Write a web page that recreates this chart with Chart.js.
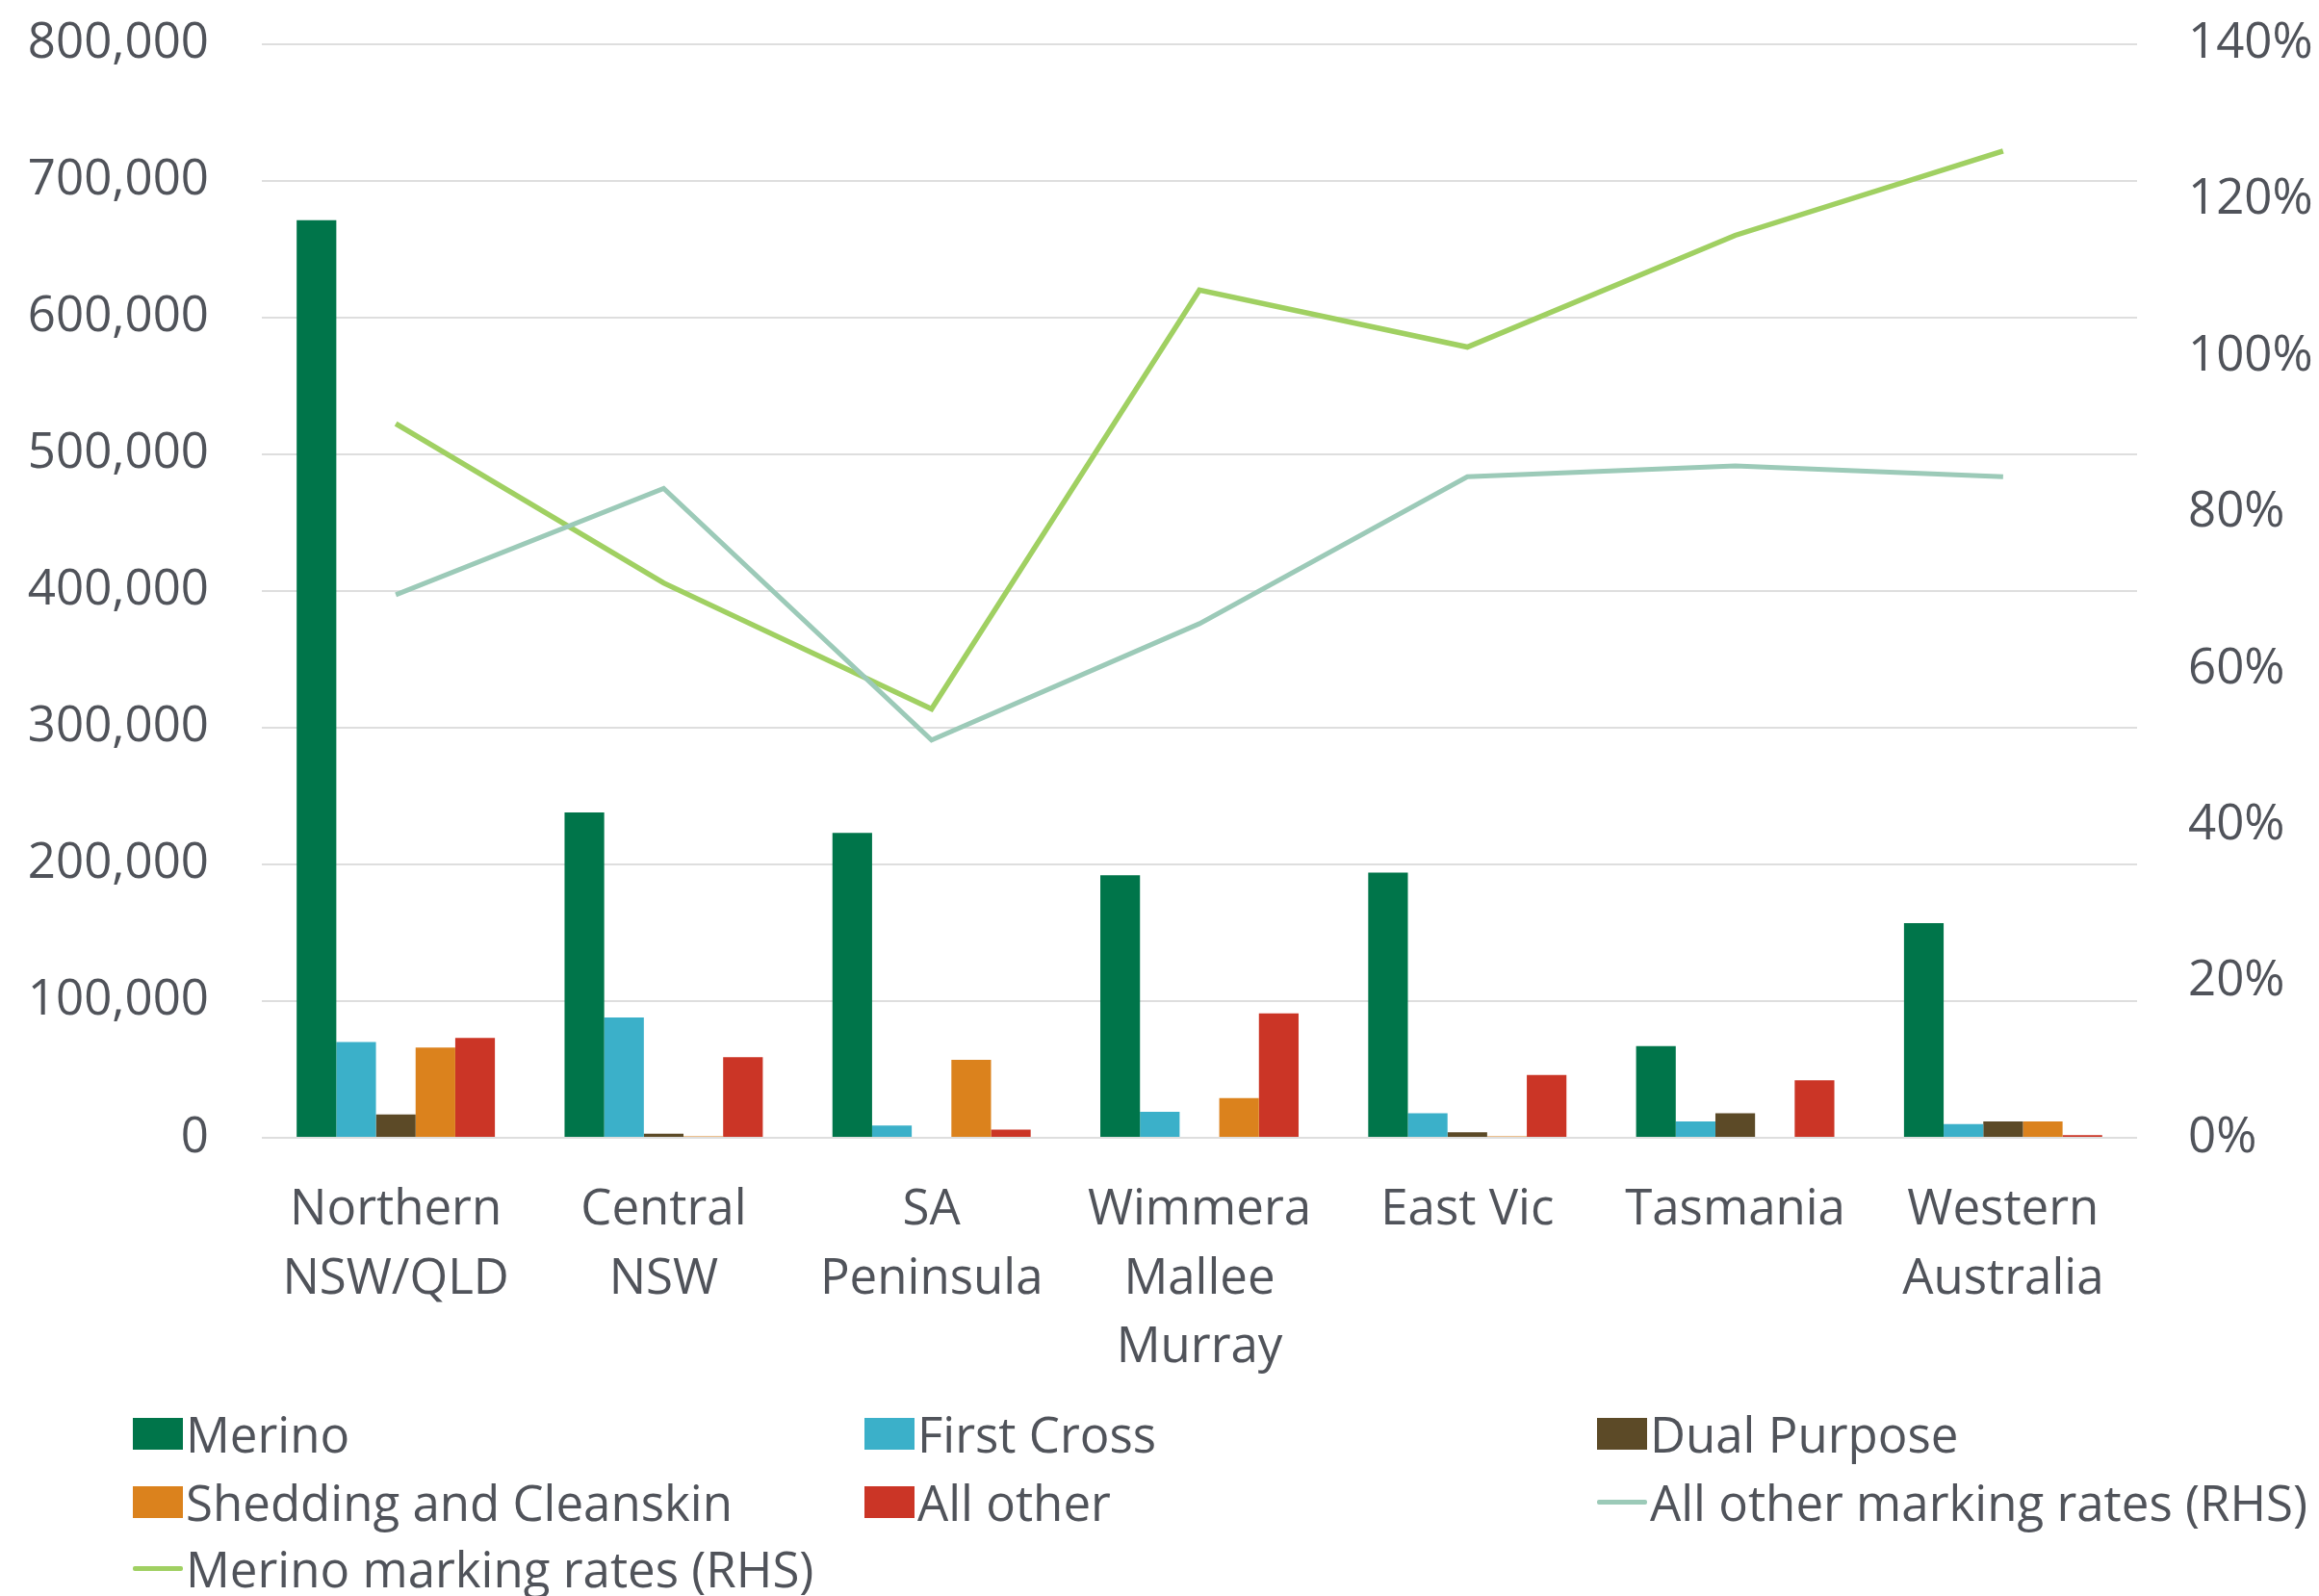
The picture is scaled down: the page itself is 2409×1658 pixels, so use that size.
<!DOCTYPE html>
<html>
<head>
<meta charset="utf-8">
<script src="https://cdn.jsdelivr.net/npm/chart.js@4.4.1/dist/chart.umd.min.js"></script>
<style>
  html, body { margin:0; padding:0; background:#fff; overflow:hidden; }
  #wrap { position:relative; width:2409px; height:1658px; overflow:hidden; }
  #box { position:absolute; left:0; top:-40px; width:2409px; height:1490px; }
  #legend { position:absolute; left:0; top:0; width:2409px; height:1658px; pointer-events:none;
    font-family:"Open Sans", sans-serif; font-size:51px; color:#50535a; }
  .item { position:absolute; display:flex; align-items:center; white-space:nowrap; line-height:1; }
  .sw { width:52px; height:33px; margin-right:3px; }
  .ln { width:52px; height:5px; margin-right:3px; border-radius:2px; }
</style>
</head>
<body>
<div id="wrap">
  <div id="box"><canvas id="chart"></canvas></div>
  <div id="legend"></div>
</div>
<script>
const regions = [['Northern','NSW/QLD'], ['Central','NSW'], ['SA','Peninsula'], ['Wimmera','Mallee','Murray'], 'East Vic', 'Tasmania', ['Western','Australia']];

const merino      = [671000, 238000, 223000, 192000, 194000, 67000, 157000];
const firstCross  = [70000, 88000, 9000, 19000, 18000, 12000, 10000];
const dualPurpose = [17000, 3000, 0, 0, 4000, 18000, 12000];
const shedding    = [66000, 1000, 57000, 29000, 1000, 0, 12000];
const allOther    = [73000, 59000, 6000, 91000, 46000, 42000, 2000];

const allOtherRates = [69.5, 83.1, 50.9, 65.8, 84.6, 86.0, 84.6];
const merinoRates   = [91.4, 71.0, 54.9, 108.5, 101.2, 115.5, 126.3];

const leftTicks = [0, 800000, 100000];
const rightTicks = [0, 140, 20];

const textCol = '#50535a';
const fnt = { family:'"Open Sans", sans-serif', size:51 };

const datasets = [
  { type:'bar', label:'Merino', data:merino, backgroundColor:'#00754a', yAxisID:'y', order:2 },
  { type:'bar', label:'First Cross', data:firstCross, backgroundColor:'#3bb0c9', yAxisID:'y', order:2 },
  { type:'bar', label:'Dual Purpose', data:dualPurpose, backgroundColor:'#5c4a27', yAxisID:'y', order:2 },
  { type:'bar', label:'Shedding and Cleanskin', data:shedding, backgroundColor:'#db821d', yAxisID:'y', order:2 },
  { type:'bar', label:'All other', data:allOther, backgroundColor:'#cb3526', yAxisID:'y', order:2 },
  { type:'line', label:'All other marking rates (RHS)', data:allOtherRates, borderColor:'#9ccab8', borderWidth:5, pointRadius:0, yAxisID:'y2', order:1 },
  { type:'line', label:'Merino marking rates (RHS)', data:merinoRates, borderColor:'#a0d062', borderWidth:5.5, pointRadius:0, yAxisID:'y2', order:1 }
];

new Chart(document.getElementById('chart'), {
  data:{ labels:regions, datasets },
  options:{
    responsive:true, maintainAspectRatio:false, animation:false,
    layout:{ padding:{ top:2, right:0, left:0, bottom:0 } },
    plugins:{ legend:{ display:false }, tooltip:{ enabled:false } },
    datasets:{ bar:{ barPercentage:1, categoryPercentage:0.74 } },
    scales:{
      x:{
        grid:{ display:false, drawTicks:false },
        border:{ display:false },
        ticks:{ color:textCol, font:{ ...fnt, lineHeight:1.4 }, padding:40, maxRotation:0, autoSkip:false },
        afterFit(s){ s.height = 268; }
      },
      y:{
        position:'left', min:leftTicks[0], max:leftTicks[1],
        grid:{ color:'#dedede', lineWidth:2, drawTicks:false },
        border:{ display:false },
        ticks:{ stepSize:leftTicks[2], color:textCol, font:fnt, padding:55,
          callback:v => v.toLocaleString('en-US') },
        afterFit(s){ s.width = 272; }
      },
      y2:{
        position:'right', min:rightTicks[0], max:rightTicks[1],
        grid:{ display:false, drawTicks:false },
        border:{ display:false },
        ticks:{ stepSize:rightTicks[2], color:textCol, font:fnt, padding:53,
          callback:v => v + '%' },
        afterFit(s){ s.width = 2409 - 2220; }
      }
    }
  }
});

// legend in three columns, like the original
const cols = [138, 898, 1659];
const rows = [1489, 1560, 1629];
const leg = document.getElementById('legend');
datasets.forEach((ds, i) => {
  const el = document.createElement('div');
  el.className = 'item';
  el.style.left = cols[i % 3] + 'px';
  el.style.top = (rows[Math.floor(i / 3)] - 30) + 'px';
  el.style.height = '60px';
  const mk = document.createElement('span');
  if(ds.type === 'bar'){ mk.className = 'sw'; mk.style.background = ds.backgroundColor; }
  else { mk.className = 'ln'; mk.style.background = ds.borderColor; }
  el.appendChild(mk);
  const tx = document.createElement('span');
  tx.textContent = ds.label;
  el.appendChild(tx);
  leg.appendChild(el);
});
</script>
</body>
</html>
